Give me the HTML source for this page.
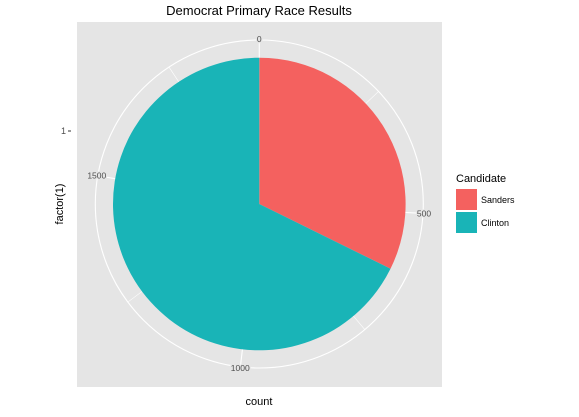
<!DOCTYPE html>
<html><head><meta charset="utf-8"><style>
body{margin:0;background:#fff;}
svg text{font-family:"Liberation Sans",sans-serif;}
</style></head><body>
<svg width="579" height="412" viewBox="0 0 579 412">
<text x="259" y="15" font-size="13" text-anchor="middle" fill="#000">Democrat Primary Race Results</text>
<rect x="77" y="22" width="365" height="365" fill="#e5e5e5"/>
<g id="grid"></g>
<g id="slices"></g>
<g id="labels"></g>
<text x="66" y="134" font-size="9" fill="#4d4d4d" text-anchor="end">1</text>
<line x1="68" y1="131" x2="71" y2="131" stroke="#333" stroke-width="1"/>
<text transform="translate(63,204) rotate(-90)" font-size="11" text-anchor="middle">factor(1)</text>
<text x="259" y="405" font-size="11" text-anchor="middle">count</text>
<text x="456" y="182" font-size="11">Candidate</text>
<g id="legend"></g>
</svg>
<script>
const categories = ["Sanders", "Clinton"];
const counts = [623, 1306];
const colors = ["#F4615F", "#19B4B7"];
const tickValues = [0, 500, 1000, 1500];
const minorValues = [250, 750, 1250, 1750];
const NS = "http://www.w3.org/2000/svg";
const cx = 259.3, cy = 204, rPie = 146.3, rOuter = 164;
const total = counts.reduce((a, b) => a + b, 0);
function ang(v){ return v / total * 2 * Math.PI; }
function pt(v, r){ const a = ang(v); return [cx + r*Math.sin(a), cy - r*Math.cos(a)]; }
function mk(tag, attrs, parent){ const e = document.createElementNS(NS, tag); for (const k in attrs) e.setAttribute(k, attrs[k]); parent.appendChild(e); return e; }
const grid = document.getElementById("grid");
const oc = mk("circle", {cx: cx, cy: cy, r: rOuter, fill: "none", stroke: "#fff", "stroke-width": 1.1}, grid);


tickValues.concat(minorValues).forEach((v) => {
  const p = pt(v, rOuter);
  const major = tickValues.includes(v);
  const l = mk("line", {x1: cx, y1: cy, x2: p[0], y2: p[1], stroke: "#fff", "stroke-width": major ? 1.1 : 0.6}, grid);
  
  
});
const sl = document.getElementById("slices");
let cum = 0;
counts.forEach((c, i) => {
  const p0 = pt(cum, rPie), p1 = pt(cum + c, rPie);
  const large = c / total > 0.5 ? 1 : 0;
  const path = mk("path", {d: `M${cx},${cy} L${p0[0]},${p0[1]} A${rPie},${rPie} 0 ${large} 1 ${p1[0]},${p1[1]} Z`, fill: colors[i], stroke: "none"}, sl);
  
  
  cum += c;
});
const lb = document.getElementById("labels");
tickValues.forEach((v) => {
  const p = pt(v, rOuter + 1);
  const t = mk("text", {x: p[0], y: p[1] + 3, "font-size": 8.5, fill: "#4d4d4d", "text-anchor": "middle", stroke: "#e5e5e5", "stroke-width": 2.5, "paint-order": "stroke"}, lb);
  t.textContent = v;
  
  
});
const lg = document.getElementById("legend");
categories.forEach((c, i) => {
  const y = 189 + i * 23;
  const r = mk("rect", {x: 456, y: y, width: 21, height: 21, fill: colors[i]}, lg);
  
  
  const t = mk("text", {x: 481, y: y + 14, "font-size": 9}, lg);
  t.textContent = c;
  
  
});
</script>
</body></html>
